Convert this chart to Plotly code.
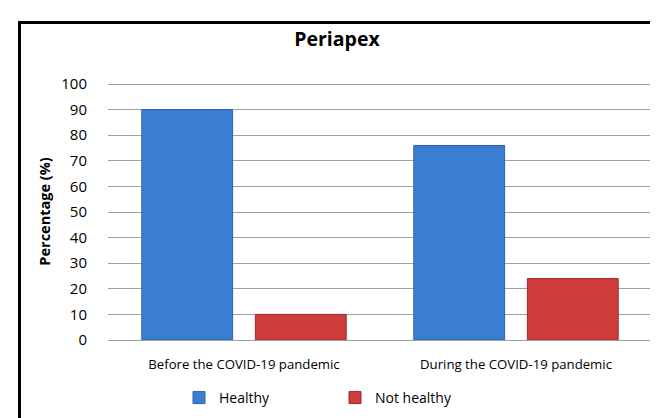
import plotly.graph_objects as go

categories = ["Before the COVID-19 pandemic", "During the COVID-19 pandemic"]
healthy = [90, 76]
not_healthy = [10, 24]
y_ticks = list(range(0, 101, 10))

W, H = 658, 418
L, R, T, B = 100, 14, 75, 77
pw, ph = W - L - R, H - T - B

def px_x(px):
    return (px - L) / pw

def px_y(py):
    return (H - B - py) / ph

font = "Open Sans, Noto Sans, sans-serif"

fig = go.Figure()
fig.add_trace(go.Bar(
    x=categories, y=healthy, name="Healthy",
    marker=dict(color="#3B7DD0", line=dict(color="#2F62A6", width=1)),
))
fig.add_trace(go.Bar(
    x=categories, y=not_healthy, name="Not healthy",
    marker=dict(color="#CF3C3C", line=dict(color="#9E2A2A", width=1)),
))

fig.update_layout(
    width=W, height=H,
    margin=dict(l=L, r=R, t=T, b=B),
    paper_bgcolor="white", plot_bgcolor="white",
    font=dict(family=font, size=13, color="black"),
    barmode="group", bargap=0.165, bargroupgap=0.2,
    title=dict(text="<b>Periapex</b>", x=0.5, xanchor="center",
               y=1 - 31 / H, yanchor="middle", font=dict(size=19.5, family=font)),
    xaxis=dict(showgrid=False, showline=True, linecolor="#A0A0A0", linewidth=1,
               ticks="outside", ticklen=12, tickcolor="rgba(0,0,0,0)",
               tickfont=dict(size=13.2), fixedrange=True),
    yaxis=dict(range=[0, 100.4], tickvals=y_ticks, showgrid=True, gridcolor="#A0A0A0",
               gridwidth=1, zeroline=False, showline=False,
               ticks="outside", ticklen=17, tickcolor="rgba(0,0,0,0)",
               tickfont=dict(size=15),
               title=dict(text="<b>Percentage (%)</b>", font=dict(size=14.5), standoff=7)),
    legend=dict(orientation="h", x=px_x(171), xanchor="left", y=px_y(401), yanchor="middle",
                font=dict(size=14), itemwidth=30, traceorder="normal",
                entrywidth=111, entrywidthmode="pixels"),
    shapes=[dict(type="rect", xref="paper", yref="paper",
                 x0=px_x(11.5), x1=px_x(720), y0=px_y(12.5), y1=px_y(480),
                 line=dict(color="black", width=3), fillcolor="rgba(0,0,0,0)", layer="above")],
)

fig.write_html("out.html")
